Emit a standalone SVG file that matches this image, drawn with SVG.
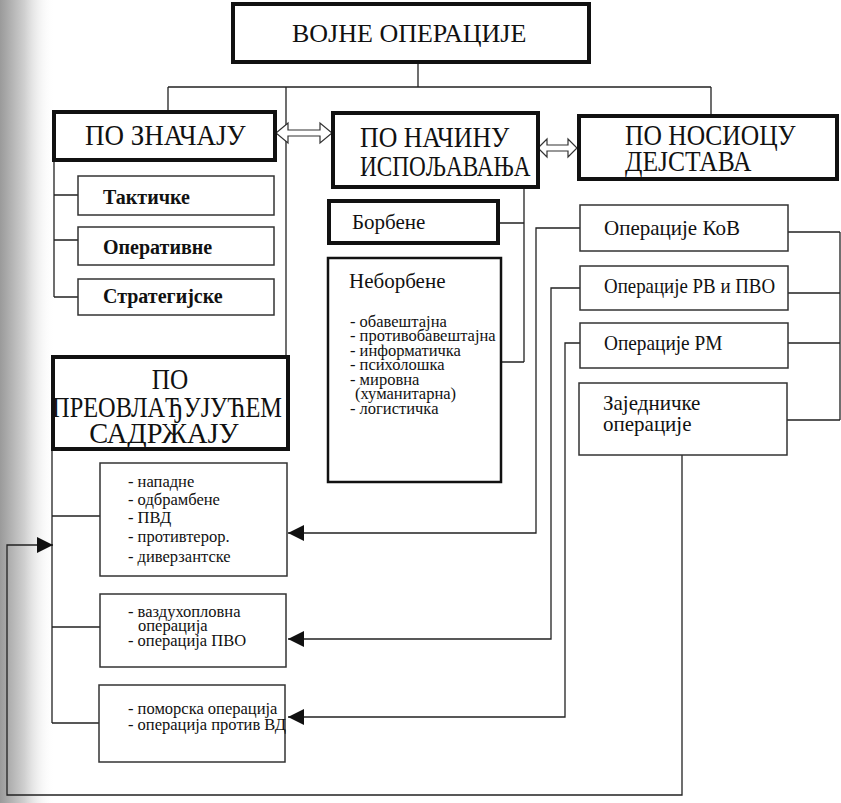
<svg xmlns="http://www.w3.org/2000/svg" width="841" height="803" viewBox="0 0 841 803">
<defs>
<linearGradient id="scan" x1="0" y1="0" x2="1" y2="0">
<stop offset="0" stop-color="#9a9a9a"/>
<stop offset="0.45" stop-color="#d0d0d0"/>
<stop offset="1" stop-color="#ffffff" stop-opacity="0"/>
</linearGradient>
<marker id="tri" markerUnits="userSpaceOnUse" markerWidth="18" markerHeight="18" refX="16" refY="8" orient="auto">
<path d="M0,0 L16,8 L0,16 z" fill="#111"/>
</marker>
</defs>
<style>
.thick{fill:#fff;stroke:#111;stroke-width:4}
.med{fill:#fff;stroke:#111;stroke-width:2.5}
.thin{fill:#fff;stroke:#333;stroke-width:1.5}
.ln{fill:none;stroke:#222;stroke-width:1.3}
.dbl{fill:#fff;stroke:#333;stroke-width:1.2}
</style>
<rect x="0" y="0" width="841" height="803" fill="#fff"/>
<rect x="0" y="0" width="55" height="803" fill="url(#scan)"/>

<g id="connectors">
<path class="ln" d="M418,62 V87 M168,87 H711 M168,87 V112 M711,87 V116 M286,87 V357"/>
<path class="ln" d="M54,160 V297 M54,195 H78 M54,240 H78 M54,297 H78"/>
<path class="ln" d="M524,187 V362 M498,223 H524 M501,362 H524"/>
<path class="ln" d="M788,232 H840 M788,293 H840 M788,343 H840 M787,420 H840 M840,232 V420"/>
<path class="ln" d="M52,449 V723 M52,516 H100 M52,627 H100 M52,723 H100"/>
<path class="ln" d="M580,228 H536 V533 H288" marker-end="url(#tri)"/>
<path class="ln" d="M580,288 H551 V639 H288" marker-end="url(#tri)"/>
<path class="ln" d="M580,343 H565 V717 H288" marker-end="url(#tri)"/>
<path class="ln" d="M682,455 V795 H7 V545 H53" marker-end="url(#tri)"/>
<polygon class="dbl" points="276,133 288,123 288,130 320,130 320,123 332,133 320,143 320,136 288,136 288,143"/>
<polygon class="dbl" points="538,148 547,139 547,145 568,145 568,139 577,148 568,157 568,151 547,151 547,157"/>
</g>

<g id="vojne-operacije">
<rect class="thick" x="233" y="4" width="356" height="58"/>
<text font-family="Liberation Serif" fill="#111" font-size="26" x="292" y="42">ВОЈНЕ ОПЕРАЦИЈЕ</text>
</g>

<g id="po-znacaju">
<rect class="thick" x="54" y="112" width="221" height="48"/>
<text font-family="Liberation Serif" fill="#111" font-size="30" transform="translate(85,145) scale(0.9,1)">ПО ЗНАЧАЈУ</text>
</g>

<g id="po-nacinu">
<rect class="thick" x="333" y="113" width="205" height="74"/>
<text font-family="Liberation Serif" fill="#111" font-size="29" transform="translate(360,147) scale(0.89,1)">ПО НАЧИНУ</text>
<text font-family="Liberation Serif" fill="#111" font-size="29" transform="translate(360,176) scale(0.8,1)">ИСПОЉАВАЊА</text>
</g>

<g id="po-nosiocu">
<rect class="thick" x="579" y="116" width="258" height="63" stroke-width="5"/>
<text font-family="Liberation Serif" fill="#111" font-size="29" transform="translate(625,145) scale(0.88,1)">ПО НОСИОЦУ</text>
<text font-family="Liberation Serif" fill="#111" font-size="29" transform="translate(625,171) scale(0.88,1)">ДЕЈСТАВА</text>
</g>

<g id="takticke">
<rect class="thin" x="78" y="176" width="196" height="39"/>
<text font-family="Liberation Serif" fill="#111" font-size="20" font-weight="bold" x="103" y="204">Тактичке</text>
</g>
<g id="operativne">
<rect class="thin" x="78" y="227" width="196" height="38"/>
<text font-family="Liberation Serif" fill="#111" font-size="20" font-weight="bold" x="103" y="254">Оперативне</text>
</g>
<g id="strategijske">
<rect class="thin" x="78" y="279" width="196" height="36"/>
<text font-family="Liberation Serif" fill="#111" font-size="20" font-weight="bold" x="103" y="303">Стратегијске</text>
</g>

<g id="po-preovladjujucem">
<rect class="thick" x="53" y="357" width="235" height="92"/>
<text font-family="Liberation Serif" fill="#111" font-size="29" text-anchor="middle" transform="translate(170,389) scale(0.87,1)">ПО</text>
<text font-family="Liberation Serif" fill="#111" font-size="29" text-anchor="middle" transform="translate(167,417) scale(0.84,1)">ПРЕОВЛАЂУЈУЋЕМ</text>
<text font-family="Liberation Serif" fill="#111" font-size="29" text-anchor="middle" transform="translate(164,443) scale(0.98,1)">САДРЖАЈУ</text>
</g>

<g id="borbene">
<rect class="thick" x="329" y="201" width="169" height="42" stroke-width="3.5"/>
<text font-family="Liberation Serif" fill="#111" font-size="21" x="352" y="229">Борбене</text>
</g>

<g id="neborbene">
<rect class="med" x="328" y="258" width="173" height="224"/>
<text font-family="Liberation Serif" fill="#111" font-size="21" x="349" y="288">Неборбене</text>
<text font-family="Liberation Serif" fill="#111" font-size="16.5" x="350" y="327">- обавештајна</text>
<text font-family="Liberation Serif" fill="#111" font-size="16.5" x="350" y="341">- противобавештајна</text>
<text font-family="Liberation Serif" fill="#111" font-size="16.5" x="350" y="356">- информатичка</text>
<text font-family="Liberation Serif" fill="#111" font-size="16.5" x="350" y="370">- психолошка</text>
<text font-family="Liberation Serif" fill="#111" font-size="16.5" x="350" y="385">- мировна</text>
<text font-family="Liberation Serif" fill="#111" font-size="16.5" x="355" y="399">(хуманитарна)</text>
<text font-family="Liberation Serif" fill="#111" font-size="16.5" x="350" y="414">- логистичка</text>
</g>

<g id="operacije-kov">
<rect class="thin" x="580" y="205" width="208" height="46"/>
<text font-family="Liberation Serif" fill="#111" font-size="21" x="604" y="235">Операције КоВ</text>
</g>
<g id="operacije-rv-pvo">
<rect class="thin" x="580" y="266" width="208" height="44"/>
<text font-family="Liberation Serif" fill="#111" font-size="21" transform="translate(604,293) scale(0.9,1)">Операције РВ и ПВО</text>
</g>
<g id="operacije-rm">
<rect class="thin" x="580" y="323" width="208" height="45"/>
<text font-family="Liberation Serif" fill="#111" font-size="21" transform="translate(604,350) scale(0.92,1)">Операције РМ</text>
</g>
<g id="zajednicke">
<rect class="thin" x="579" y="383" width="208" height="72"/>
<text font-family="Liberation Serif" fill="#111" font-size="21" x="603" y="410">Заједничке</text>
<text font-family="Liberation Serif" fill="#111" font-size="21" x="603" y="431">операције</text>
</g>

<g id="kopnene">
<rect class="thin" x="100" y="463" width="187" height="113"/>
<text font-family="Liberation Serif" fill="#111" font-size="16.5" x="128" y="487">- нападне</text>
<text font-family="Liberation Serif" fill="#111" font-size="16.5" x="128" y="505">- одбрамбене</text>
<text font-family="Liberation Serif" fill="#111" font-size="16.5" x="128" y="523">- ПВД</text>
<text font-family="Liberation Serif" fill="#111" font-size="16.5" x="128" y="542">- противтерор.</text>
<text font-family="Liberation Serif" fill="#111" font-size="16.5" x="128" y="562">- диверзантске</text>
</g>
<g id="vazduhoplovne">
<rect class="thin" x="100" y="594" width="186" height="73"/>
<text font-family="Liberation Serif" fill="#111" font-size="16.5" x="128" y="617">- ваздухопловна</text>
<text font-family="Liberation Serif" fill="#111" font-size="16.5" x="138" y="631">операција</text>
<text font-family="Liberation Serif" fill="#111" font-size="16.5" x="128" y="646">- операција ПВО</text>
</g>
<g id="pomorske">
<rect class="thin" x="99" y="685" width="186" height="77"/>
<text font-family="Liberation Serif" fill="#111" font-size="16.5" x="128" y="714">- поморска операција</text>
<text font-family="Liberation Serif" fill="#111" font-size="16.5" x="128" y="730">- операција против ВД</text>
</g>
</svg>
